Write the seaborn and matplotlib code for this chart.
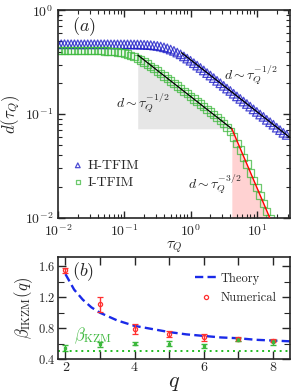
import numpy as np
import pandas as pd
import seaborn as sns
import matplotlib.pyplot as plt
from matplotlib.lines import Line2D

# ---- panel (a) data: defect density vs quench time ----
logtau_h = np.arange(-2.0, 1.451, 0.05)
d_h = [0.470, 0.470, 0.471, 0.470, 0.470, 0.470, 0.470, 0.469, 0.470, 0.470,
       0.470, 0.470, 0.470, 0.470, 0.470, 0.470, 0.469, 0.469, 0.469, 0.469,
       0.469, 0.469, 0.469, 0.468, 0.468, 0.467, 0.465, 0.463, 0.461, 0.457,
       0.453, 0.447, 0.439, 0.430, 0.418, 0.406, 0.391, 0.376, 0.359, 0.342,
       0.326, 0.309, 0.293, 0.278, 0.263, 0.248, 0.235, 0.222, 0.209, 0.198,
       0.187, 0.176, 0.167, 0.157, 0.148, 0.140, 0.132, 0.125, 0.118, 0.111,
       0.105, 0.099, 0.094, 0.088, 0.0835, 0.079, 0.074, 0.070, 0.066, 0.063]

logtau_i = np.arange(-2.0, 1.301, 0.05)
d_i = [0.410, 0.410, 0.410, 0.410, 0.410, 0.410, 0.410, 0.410, 0.409, 0.409,
       0.409, 0.409, 0.408, 0.407, 0.406, 0.405, 0.403, 0.400, 0.396, 0.391,
       0.386, 0.378, 0.368, 0.358, 0.345, 0.332, 0.318, 0.303, 0.289, 0.274,
       0.260, 0.246, 0.233, 0.220, 0.208, 0.197, 0.186, 0.176, 0.166, 0.157,
       0.148, 0.140, 0.132, 0.125, 0.118, 0.111, 0.105, 0.099, 0.093, 0.087,
       0.081, 0.074, 0.068, 0.060, 0.052, 0.045, 0.038, 0.033, 0.027, 0.023,
       0.0195, 0.0164, 0.0138, 0.0116, 0.0098, 0.0082, 0.0069]

# power-law guide lines (endpoints)
fit_h_tau = [0.73, 31.0]
fit_h_d = [0.39, 0.0600]
fit_i_tau = [0.16, 4.2]
fit_i_d = [0.37, 0.0722]
fit_i2_tau = [4.2, 15.8]
fit_i2_d = [0.0722, 0.0099]

# ---- panel (b) data ----
q_theory = [2.0, 2.25, 2.5, 2.75, 3.0, 3.5, 4.0, 4.5, 5.0, 5.5, 6.0, 6.5, 7.0, 7.5, 8.0, 8.5]
beta_theory = [1.5, 1.30, 1.17, 1.07, 1.0, 0.90, 0.83, 0.79, 0.75, 0.72, 0.70, 0.68, 0.67, 0.65, 0.64, 0.63]
q_num = [2, 3, 4, 5, 6, 7, 8]
beta_num = [1.55, 1.11, 0.79, 0.73, 0.68, 0.66, 0.64]
err_num = [0.03, 0.10, 0.06, 0.04, 0.04, 0.02, 0.02]
beta_kzm = [0.54, 0.59, 0.60, 0.60, 0.57, 0.65, 0.615]
err_kzm = [0.04, 0.03, 0.02, 0.03, 0.03, 0.02, 0.03]
beta_kzm_line = 0.5

sns.set_style("ticks")
plt.rcParams['font.family'] = 'serif'
plt.rcParams['font.serif'] = ['cmr10']
plt.rcParams['mathtext.fontset'] = 'cm'
plt.rcParams['axes.formatter.use_mathtext'] = True
plt.rcParams['axes.unicode_minus'] = False

fig = plt.figure(figsize=(3.03, 3.92), dpi=100)
ax1 = fig.add_axes([0.191, 0.444, 0.766, 0.530])
ax2 = fig.add_axes([0.191, 0.084, 0.766, 0.260])

blue = '#1f1fc8'
green = '#3cb83c'
red = '#ff3030'

dfh = pd.DataFrame({'tau': 10 ** logtau_h, 'd': d_h})
dfi = pd.DataFrame({'tau': 10 ** logtau_i, 'd': d_i})

ax1.set_xscale('log')
ax1.set_yscale('log')

# shaded regions under guide lines
tt = np.geomspace(fit_i_tau[0], fit_i_tau[1], 50)
ax1.fill_between(tt, fit_i_d[1], np.exp(np.interp(np.log(tt), np.log(fit_i_tau), np.log(fit_i_d))),
                 color='#e6e6e6', lw=0, zorder=0)
tt2 = np.geomspace(fit_i2_tau[0], fit_i2_tau[1], 50)
ax1.fill_between(tt2, 0.01, np.exp(np.interp(np.log(tt2), np.log(fit_i2_tau), np.log(fit_i2_d))),
                 color='#ffd2d2', lw=0, zorder=0)

sns.scatterplot(data=dfh, x='tau', y='d', ax=ax1, marker='^', s=38, facecolors='none',
                edgecolor=blue, linewidth=0.9, alpha=0.8, label='H-TFIM', zorder=2)
sns.scatterplot(data=dfi, x='tau', y='d', ax=ax1, marker='s', s=28, facecolors='none',
                edgecolor=green, linewidth=0.9, alpha=0.75, label='I-TFIM', zorder=2)

ax1.plot(fit_h_tau, fit_h_d, color='k', lw=0.9, zorder=3)
ax1.plot(fit_i_tau, fit_i_d, color='k', lw=0.9, zorder=3)
ax1.plot(fit_i2_tau, fit_i2_d, color='red', lw=1.0, zorder=3)

ax1.set_xlim(1e-2, 31.6)
ax1.set_ylim(1e-2, 1)
ax1.set_xlabel(r'$\tau_Q$', fontsize=11, labelpad=1)
ax1.set_ylabel(r'$d(\tau_Q)$', fontsize=12, labelpad=2)
ax1.tick_params(which='both', direction='in', top=True, right=True, labelsize=10)
ax1.tick_params(which='major', length=5, width=1)
ax1.tick_params(which='minor', length=3, width=0.8)

ax1.text(0.06, 0.92, r'$(a)$', transform=ax1.transAxes, fontsize=13, va='center')
ax1.text(0.19, 0.128, r'$d\sim\tau_Q^{-1/2}$', fontsize=10, ha='center', va='center')
ax1.text(8.1, 0.237, r'$d\sim\tau_Q^{-1/2}$', fontsize=10, ha='center', va='center')
ax1.text(2.3, 0.021, r'$d\sim\tau_Q^{-3/2}$', fontsize=10, ha='center', va='center')

ax1.legend(loc='lower left', bbox_to_anchor=(0.02, 0.1), frameon=False, fontsize=10,
           handletextpad=0.2, borderaxespad=0.2, labelspacing=0.3, markerscale=0.55,
           handlelength=1.0)

# ---- panel (b) ----
dft = pd.DataFrame({'q': q_theory, 'beta': beta_theory})
sns.lineplot(data=dft, x='q', y='beta', ax=ax2, color='#1a2ae8', lw=1.7, dashes=(3.5, 1.8),
             legend=False)
ax2.errorbar(q_num, beta_num, yerr=err_num, fmt='o', ms=3, mfc='none', mec=red,
             ecolor=red, elinewidth=1.0, capsize=2, capthick=1.0, mew=0.9)
ax2.errorbar(q_num, beta_kzm, yerr=err_kzm, fmt='s', ms=1.5, color=green,
             elinewidth=1.0, capsize=2, capthick=1.0)
ax2.axhline(beta_kzm_line, color='#22bb22', lw=1.4, ls=(0, (1, 2)))

ax2.set_xlim(1.78, 8.5)
ax2.set_ylim(0.4, 1.72)
ax2.set_xticks([2, 3, 4, 5, 6, 7, 8])
ax2.set_xticklabels(['2', '', '4', '', '6', '', '8'])
ax2.set_yticks([0.4, 0.8, 1.2, 1.6])
ax2.set_yticks([0.6, 1.0, 1.4], minor=True)
ax2.tick_params(which='both', direction='in', top=True, right=True)
ax2.tick_params(axis='x', which='major', length=6, width=1, labelsize=10, pad=2)
ax2.tick_params(axis='y', which='major', length=6, width=1, labelsize=9, pad=2)
ax2.tick_params(axis='y', which='minor', length=4, width=0.8)
ax2.set_xlabel(r'$q$', fontsize=16, labelpad=0)
ax2.set_ylabel(r'$\beta_{\rm IKZM}(q)$', fontsize=12, labelpad=2)
ax2.text(0.06, 0.86, r'$(b)$', transform=ax2.transAxes, fontsize=13, va='center')
ax2.text(2.25, 0.70, r'$\beta_{\rm KZM}$', color=green, fontsize=12, va='center')

handles = [Line2D([], [], color='#1a2ae8', lw=1.7, dashes=(3.5, 1.8)),
           Line2D([], [], ls='none', marker='o', ms=3, mfc='none', mec=red, mew=0.9)]
ax2.legend(handles, ['Theory', 'Numerical'], loc='upper right', bbox_to_anchor=(0.97, 0.91),
           frameon=False, fontsize=9, handlelength=1.8, handletextpad=0.3, labelspacing=0.6,
           borderaxespad=0.1)

for ax in (ax1, ax2):
    for sp in ax.spines.values():
        sp.set_linewidth(1.2)
        sp.set_visible(True)

plt.savefig('out.png', dpi=100)
